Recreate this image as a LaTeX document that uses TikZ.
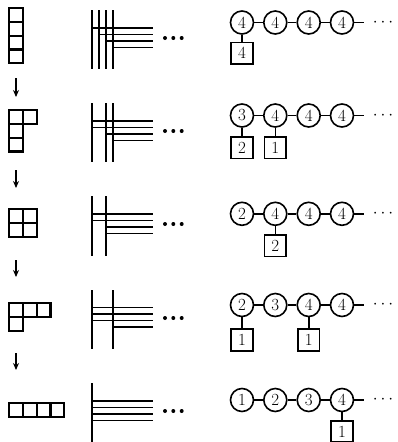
\documentclass[tikz,border=0pt]{standalone}
\usetikzlibrary{arrows.meta}
\newcommand\yngbox[2]{\draw[yb] (#1,#2) rectangle ++(13.8,13.8);}
\begin{document}
\begin{tikzpicture}[x=1pt,y=-1pt,
  yb/.style={line width=2.2pt},
  gnode/.style={circle,draw,line width=1.6pt,minimum size=23pt,inner sep=0pt,font=\fontsize{17}{17}\selectfont},
  fnode/.style={rectangle,draw,line width=1.6pt,minimum size=21.5pt,inner sep=0pt,font=\fontsize{17}{17}\selectfont},
  qline/.style={line width=1.6pt},
  dotsnode/.style={inner sep=0pt,font=\fontsize{17}{17}\selectfont},
  vbrane/.style={line width=2.6pt},
  hbrane/.style={line width=1.8pt},
  flow/.style={line width=1.5pt,-{Stealth[length=7pt,width=6pt]}},
  bdot/.style={fill=black,draw=none}
]
\useasboundingbox (0,0) rectangle (397,442);

% ---------- Young diagrams ----------
\yngbox{9}{8}\yngbox{9}{21.8}\yngbox{9}{35.6}\yngbox{9}{49.4}
\yngbox{9}{110}\yngbox{22.8}{110}\yngbox{9}{123.8}\yngbox{9}{137.6}
\yngbox{9}{209}\yngbox{22.8}{209}\yngbox{9}{222.8}\yngbox{22.8}{222.8}
\yngbox{9}{303}\yngbox{22.8}{303}\yngbox{36.6}{303}\yngbox{9}{316.8}
\yngbox{9}{403}\yngbox{22.8}{403}\yngbox{36.6}{403}\yngbox{50.4}{403}

% ---------- arrows ----------
\coordinate (a1s) at (16,78);  \coordinate (a1e) at (16,97);
\coordinate (a2s) at (16,170); \coordinate (a2e) at (16,188);
\coordinate (a3s) at (16,260); \coordinate (a3e) at (16,277);
\coordinate (a4s) at (16,353); \coordinate (a4e) at (16,370);
\draw[flow] (a1s) -- (a1e);
\draw[flow] (a2s) -- (a2e);
\draw[flow] (a3s) -- (a3e);
\draw[flow] (a4s) -- (a4e);

% ---------- brane pictures ----------
% row 1
\foreach \x in {92,99,106,113} \draw[vbrane] (\x,10) -- (\x,69);
\draw[hbrane] (92,28) -- (153,28);
\draw[hbrane] (99,34.5) -- (153,34.5);
\draw[hbrane] (106,41) -- (153,41);
\draw[hbrane] (113,47.5) -- (153,47.5);
% row 2
\foreach \x in {92,106,113} \draw[vbrane] (\x,103) -- (\x,162);
\draw[hbrane] (92,121) -- (153,121);
\draw[hbrane] (92,127.5) -- (153,127.5);
\draw[hbrane] (106,134) -- (153,134);
\draw[hbrane] (113,140.5) -- (153,140.5);
% row 3
\foreach \x in {92,106} \draw[vbrane] (\x,196) -- (\x,256);
\draw[hbrane] (92,214) -- (153,214);
\draw[hbrane] (92,220.5) -- (153,220.5);
\draw[hbrane] (106,227) -- (153,227);
\draw[hbrane] (106,233.5) -- (153,233.5);
% row 4
\foreach \x in {92,113} \draw[vbrane] (\x,290) -- (\x,349);
\draw[hbrane] (92,307.5) -- (153,307.5);
\draw[hbrane] (92,314) -- (153,314);
\draw[hbrane] (92,320.5) -- (153,320.5);
\draw[hbrane] (113,327) -- (153,327);
% row 5
\draw[vbrane] (92,383) -- (92,442);
\draw[hbrane] (92,401) -- (153,401);
\draw[hbrane] (92,407.5) -- (153,407.5);
\draw[hbrane] (92,414) -- (153,414);
\draw[hbrane] (92,420.5) -- (153,420.5);
% bold dots
\foreach \y in {38,131,224,318,411}
  \foreach \x in {165,173.3,181.7} \fill[bdot] (\x,\y) circle (2);

% ---------- quivers ----------
% row 1
\node[gnode] (r1a) at (242,22.5) {4};
\node[gnode] (r1b) at (275.3,22.5) {4};
\node[gnode] (r1c) at (308.7,22.5) {4};
\node[gnode] (r1d) at (342,22.5) {4};
\node[fnode] (r1f) at (242,53.3) {4};
\coordinate (r1t) at (364,22.5);
\node[dotsnode] (r1dots) at (383,22.5) {$\cdots$};
\draw[qline] (r1a) -- (r1b); \draw[qline] (r1b) -- (r1c); \draw[qline] (r1c) -- (r1d);
\draw[qline] (r1d) -- (r1t); \draw[qline] (r1a) -- (r1f);
% row 2
\node[gnode] (r2a) at (242,115.5) {3};
\node[gnode] (r2b) at (275.3,115.5) {4};
\node[gnode] (r2c) at (308.7,115.5) {4};
\node[gnode] (r2d) at (342,115.5) {4};
\node[fnode] (r2f1) at (242,147.8) {2};
\node[fnode] (r2f2) at (275.3,147.8) {1};
\coordinate (r2t) at (364,115.5);
\node[dotsnode] (r2dots) at (383,115.5) {$\cdots$};
\draw[qline] (r2a) -- (r2b); \draw[qline] (r2b) -- (r2c); \draw[qline] (r2c) -- (r2d);
\draw[qline] (r2d) -- (r2t); \draw[qline] (r2a) -- (r2f1); \draw[qline] (r2b) -- (r2f2);
% row 3
\node[gnode] (r3a) at (242,213.8) {2};
\node[gnode] (r3b) at (275.3,213.8) {4};
\node[gnode] (r3c) at (308.7,213.8) {4};
\node[gnode] (r3d) at (342,213.8) {4};
\node[fnode] (r3f) at (275.3,245.8) {2};
\coordinate (r3t) at (364,213.8);
\node[dotsnode] (r3dots) at (383,213.8) {$\cdots$};
\draw[qline] (r3a) -- (r3b); \draw[qline] (r3b) -- (r3c); \draw[qline] (r3c) -- (r3d);
\draw[qline] (r3d) -- (r3t); \draw[qline] (r3b) -- (r3f);
% row 4
\node[gnode] (r4a) at (242,305) {2};
\node[gnode] (r4b) at (275.3,305) {3};
\node[gnode] (r4c) at (308.7,305) {4};
\node[gnode] (r4d) at (342,305) {4};
\node[fnode] (r4f1) at (242,340) {1};
\node[fnode] (r4f2) at (308.7,340) {1};
\coordinate (r4t) at (364,305);
\node[dotsnode] (r4dots) at (383,305) {$\cdots$};
\draw[qline] (r4a) -- (r4b); \draw[qline] (r4b) -- (r4c); \draw[qline] (r4c) -- (r4d);
\draw[qline] (r4d) -- (r4t); \draw[qline] (r4a) -- (r4f1); \draw[qline] (r4c) -- (r4f2);
% row 5
\node[gnode] (r5a) at (242,400) {1};
\node[gnode] (r5b) at (275.3,400) {2};
\node[gnode] (r5c) at (308.7,400) {3};
\node[gnode] (r5d) at (342,400) {4};
\node[fnode] (r5f) at (342,431.5) {1};
\coordinate (r5t) at (364,400);
\node[dotsnode] (r5dots) at (383,400) {$\cdots$};
\draw[qline] (r5a) -- (r5b); \draw[qline] (r5b) -- (r5c); \draw[qline] (r5c) -- (r5d);
\draw[qline] (r5d) -- (r5t); \draw[qline] (r5d) -- (r5f);
\end{tikzpicture}
\end{document}
